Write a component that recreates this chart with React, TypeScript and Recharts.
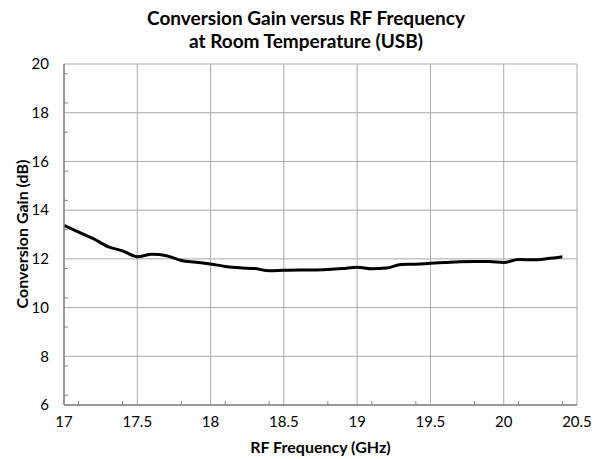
import React from "react";
import { LineChart, Line, XAxis, YAxis, CartesianGrid } from "recharts";

const freq = [17.0, 17.1, 17.2, 17.3, 17.4, 17.5, 17.6, 17.7, 17.8, 17.9, 18.0, 18.1, 18.2, 18.3, 18.4, 18.5, 18.6, 18.7, 18.8, 18.9, 19.0, 19.1, 19.2, 19.3, 19.4, 19.5, 19.6, 19.7, 19.8, 19.9, 20.0, 20.1, 20.2, 20.3, 20.4];
const gain = [13.38, 13.1, 12.83, 12.5, 12.33, 12.09, 12.19, 12.13, 11.93, 11.86, 11.79, 11.69, 11.63, 11.6, 11.51, 11.53, 11.54, 11.54, 11.56, 11.6, 11.66, 11.59, 11.62, 11.77, 11.78, 11.82, 11.85, 11.88, 11.89, 11.89, 11.85, 11.97, 11.96, 12.01, 12.09];
const xTicks = [17, 17.5, 18, 18.5, 19, 19.5, 20, 20.5];
const yTicks = [6, 8, 10, 12, 14, 16, 18, 20];
const xMinorTicks = [17.1, 17.2, 17.3, 17.4, 17.6, 17.7, 17.8, 17.9, 18.1, 18.2, 18.3, 18.4, 18.6, 18.7, 18.8, 18.9, 19.1, 19.2, 19.3, 19.4, 19.6, 19.7, 19.8, 19.9, 20.1, 20.2, 20.3, 20.4];
const yMinorTicks = [6.4, 6.8, 7.2, 7.6, 8.4, 8.8, 9.2, 9.6, 10.4, 10.8, 11.2, 11.6, 12.4, 12.8, 13.2, 13.6, 14.4, 14.8, 15.2, 15.6, 16.4, 16.8, 17.2, 17.6, 18.4, 18.8, 19.2, 19.6];
const titleLines = ["Conversion Gain versus RF Frequency", "at Room Temperature (USB)"];
const xLabel = "RF Frequency (GHz)";
const yLabel = "Conversion Gain (dB)";

const data = freq.map((f, i) => ({ f, g: gain[i] }));
const FONT = "Lato, 'Open Sans', sans-serif";
const AXIS = "#868686";
const GRID = "#a9a9a9";

const MinorX = (props: any) => {
  const { x } = props;
  return <line x1={x} x2={x} y1={405} y2={401} stroke={AXIS} strokeWidth={1} />;
};
const MinorY = (props: any) => {
  const { y } = props;
  return <line x1={64} x2={68} y1={y} y2={y} stroke={AXIS} strokeWidth={1} />;
};

export default function App() {
  return (
    <div style={{ position: "absolute", left: 0, top: 0, width: 601, height: 459, background: "#fff", fontFamily: FONT }}>
      <LineChart width={601} height={459} data={data} margin={{ top: 64, right: 24, bottom: 0, left: 0 }}>
        <CartesianGrid stroke={GRID} strokeWidth={1} />
        <XAxis
          dataKey="f"
          type="number"
          domain={[17, 20.5]}
          ticks={xTicks}
          tickLine={false}
          tickSize={0}
          tickMargin={11}
          height={54}
          axisLine={{ stroke: AXIS, strokeWidth: 1.5 }}
          tick={{ fill: "#000", fontSize: 15, fontFamily: FONT }}
          allowDataOverflow
        />
        <XAxis
          xAxisId="m"
          dataKey="f"
          type="number"
          domain={[17, 20.5]}
          ticks={xMinorTicks}
          mirror
          tick={<MinorX />}
          tickLine={false}
          axisLine={false}
          allowDataOverflow
        />
        <YAxis
          type="number"
          domain={[6, 20]}
          ticks={yTicks}
          tickLine={false}
          tickSize={0}
          tickMargin={15}
          width={64}
          axisLine={{ stroke: AXIS, strokeWidth: 1.5 }}
          tick={{ fill: "#000", fontSize: 15, fontFamily: FONT }}
          allowDataOverflow
        />
        <YAxis
          yAxisId="m"
          type="number"
          domain={[6, 20]}
          ticks={yMinorTicks}
          mirror
          tick={<MinorY />}
          tickLine={false}
          axisLine={false}
          allowDataOverflow
        />
        <Line
          dataKey="g"
          type="monotone"
          stroke="#000"
          strokeWidth={3}
          dot={false}
          isAnimationActive={false}
        />
      </LineChart>
      {titleLines.map((t, i) => (
        <div
          key={i}
          style={{
            position: "absolute",
            left: 0,
            width: 612,
            top: 6 + i * 23,
            textAlign: "center",
            fontWeight: 700,
            fontSize: 19,
            lineHeight: "23px",
            color: "#000",
          }}
        >
          {t}
        </div>
      ))}
      <div
        style={{
          position: "absolute",
          left: 64,
          width: 513,
          top: 437,
          textAlign: "center",
          fontWeight: 700,
          fontSize: 16,
          lineHeight: "20px",
          color: "#000",
        }}
      >
        {xLabel}
      </div>
      <div
        style={{
          position: "absolute",
          left: 22 - 100,
          width: 200,
          top: 234 - 10,
          textAlign: "center",
          fontWeight: 700,
          fontSize: 16,
          lineHeight: "20px",
          color: "#000",
          transform: "rotate(-90deg)",
        }}
      >
        {yLabel}
      </div>
    </div>
  );
}
